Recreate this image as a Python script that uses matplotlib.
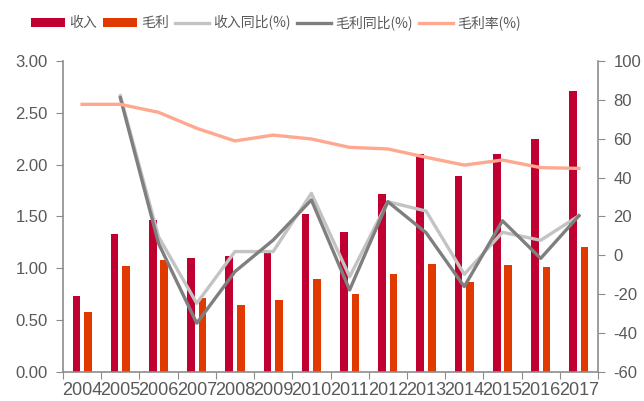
import numpy as np
import matplotlib
matplotlib.use("Agg")
import matplotlib.pyplot as plt

plt.rcParams["font.family"] = ["Liberation Sans", "Noto Sans CJK SC", "DejaVu Sans"]
plt.rcParams["axes.unicode_minus"] = False

years = ["2004", "2005", "2006", "2007", "2008", "2009", "2010",
         "2011", "2012", "2013", "2014", "2015", "2016", "2017"]
revenue = [0.73, 1.33, 1.47, 1.10, 1.12, 1.155, 1.52,
           1.35, 1.72, 2.10, 1.89, 2.10, 2.25, 2.71]
gross = [0.58, 1.02, 1.08, 0.72, 0.65, 0.70, 0.90,
         0.75, 0.95, 1.04, 0.87, 1.03, 1.01, 1.21]
revenue_yoy = [np.nan, 82.0, 9.6, -24.6, 2.0, 2.0, 31.9,
               -10.9, 27.6, 22.8, -9.7, 11.9, 7.8, 20.4]
gross_yoy = [np.nan, 81.0, 6.2, -34.8, -8.3, 7.9, 28.5,
             -17.7, 27.6, 11.7, -16.0, 17.8, -1.5, 20.4]
gross_margin = [77.6, 77.6, 73.5, 65.3, 58.8, 61.8, 59.8,
                55.5, 54.7, 50.4, 46.4, 49.0, 45.1, 44.7]

C_REV = "#C00030"
C_GROSS = "#E03A00"
C_REV_YOY = "#C3C3C3"
C_GROSS_YOY = "#7F7F7F"
C_MARGIN = "#FFA890"
TXT = "#595959"
AX = "#8C8C8C"

x = np.arange(len(years))

fig = plt.figure(figsize=(6.44, 4.01), dpi=100)
ax = fig.add_axes([0.0978, 0.0716, 0.8308, 0.777])
ax2 = ax.twinx()

w = 0.2
b1 = ax.bar(x - 0.15, revenue, w, color=C_REV, label="收入", zorder=2)
b2 = ax.bar(x + 0.15, gross, w, color=C_GROSS, label="毛利", zorder=2)

l1, = ax2.plot(x, revenue_yoy, color=C_REV_YOY, lw=2.4, label="收入同比(%)")
l2, = ax2.plot(x, gross_yoy, color=C_GROSS_YOY, lw=2.4, label="毛利同比(%)")
l3, = ax2.plot(x, gross_margin, color=C_MARGIN, lw=2.4, label="毛利率(%)")

ax.set_xlim(-0.5, len(years) - 0.5)
ax.set_ylim(0, 3.0)
ax.set_yticks(np.arange(0, 3.01, 0.5))
ax.set_yticklabels([f"{v:.2f}" for v in np.arange(0, 3.01, 0.5)])
ax2.set_ylim(-60, 100)
ax2.set_yticks(np.arange(-60, 101, 20))

# boundaries get the tick marks, centres get the year labels
ax.set_xticks(np.arange(-0.5, len(years), 1.0))
ax.set_xticklabels([])
ax.set_xticks(x, minor=True)
ax.set_xticklabels(years, minor=True)
ax.tick_params(axis="x", which="major", length=5, color=AX, direction="out")
ax.tick_params(axis="x", which="minor", length=0, pad=7, labelsize=13, labelcolor=TXT)
ax.tick_params(axis="y", length=5, color=AX, labelsize=12, labelcolor=TXT, pad=6)
ax2.tick_params(axis="y", length=5, color=AX, labelsize=12, labelcolor=TXT, pad=6)

for a in (ax, ax2):
    a.spines["top"].set_visible(False)
    for s in ("left", "right", "bottom"):
        a.spines[s].set_color(AX)
        a.spines[s].set_linewidth(1.2)
ax.spines["right"].set_visible(False)
ax2.spines["left"].set_visible(False)
ax2.spines["bottom"].set_visible(False)

fig.legend(handles=[b1, b2, l1, l2, l3], loc="center left",
           bbox_to_anchor=(31 / 644, 0.943), ncol=5, frameon=False,
           borderpad=0, borderaxespad=0, handlelength=2.45, handleheight=0.7,
           handletextpad=0.3, columnspacing=0.45,
           prop={"family": ["Noto Sans CJK SC", "DejaVu Sans"], "size": 10},
           labelcolor=TXT)

fig.savefig("out.png", dpi=100)
